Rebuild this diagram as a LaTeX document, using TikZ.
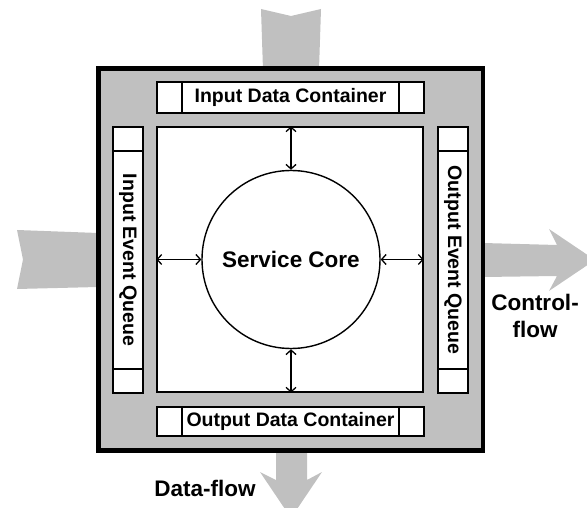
\documentclass[tikz,border=0pt]{standalone}
\usepackage{fontspec}
\setmainfont{Liberation Sans}
\usetikzlibrary{arrows.meta}
\definecolor{shell}{RGB}{192,192,192}
\tikzset{
	cell/.style={draw,fill=white,line width=1.4pt},
	boxtext/.style={font=\bfseries\fontsize{19.5}{23}\selectfont},
	bigtext/.style={font=\bfseries\fontsize{22.5}{27}\selectfont,align=center},
	link/.style={line width=1.3pt,{Straight Barb[length=4.5pt,width=10pt]}-{Straight Barb[length=4.5pt,width=10pt]}}
}
\begin{document}
\begin{tikzpicture}[x=1pt,y=-1pt]
	\useasboundingbox (0,0) rectangle (587,508);
	% flows in and out
	\fill[shell] (261,9)--(291,16)--(321,9)--(319,70)--(263,70)--cycle;
	\fill[shell] (17,230)--(98,233)--(98,287)--(17,289)--(23,259.5)--cycle;
	\fill[shell] (483,243)--(557,245)--(549,229)--(595,260)--(549,291)--(557,276)--(483,277)--cycle;
	\fill[shell] (276,450)--(307,450)--(307,480)--(322,472)--(291,518)--(260,472)--(276,480)--cycle;
	% service frame
	\draw[fill=shell,line width=4.7pt] (98.3,68.2) rectangle (483,450.3);
	\draw[cell] (157,82) rectangle (424,113);  \draw[cell] (157,407) rectangle (424,436);
	\draw[cell] (113,127) rectangle (143,393);  \draw[cell] (438,127) rectangle (468,393);
	\foreach \x in {182,399} \draw[line width=1.4pt] (\x,82)--(\x,113) (\x,407)--(\x,436);
	\foreach \y in {151,369} \draw[line width=1.4pt] (113,\y)--(143,\y) (438,\y)--(468,\y);
	\node[boxtext] (indata) at (290.5,97.5) {Input Data Container};
	\node[boxtext] (outdata) at (290.5,421.5) {Output Data Container};
	\node[boxtext,rotate=-90] (inqueue) at (128,260) {Input Event Queue};
	\node[boxtext,rotate=-90] (outqueue) at (453,260) {Output Event Queue};
	% core
	\node[cell,minimum width=266pt,minimum height=265pt,inner sep=0pt] (inner) at (290,259.5) {};
	\node[draw,circle,line width=1.4pt,minimum size=178pt,inner sep=0pt,bigtext] (core) at (291,259.5) {Service Core};
	\draw[link] (inner.north -| core.north)--(core.north);
	\draw[link] (inner.south -| core.south)--(core.south);
	\draw[link] (inner.west |- core.west)--(core.west);
	\draw[link] (inner.east |- core.east)--(core.east);
	% flow labels
	\node[bigtext] (ctrl) at (535,316) {Control-\\flow};
	\node[bigtext] (data) at (205,488) {Data-flow};
\end{tikzpicture}
\end{document}
